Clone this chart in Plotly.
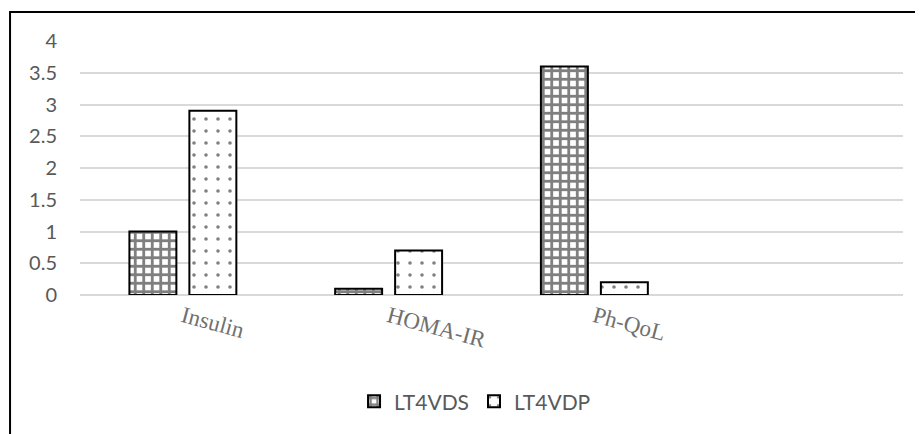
import plotly.graph_objects as go

categories = ["Insulin", "HOMA-IR", "Ph-QoL"]
lt4vds = [1.0, 0.1, 3.6]
lt4vdp = [2.9, 0.7, 0.2]
series_names = ["LT4VDS", "LT4VDP"]
y_ticks = [0, 0.5, 1, 1.5, 2, 2.5, 3, 3.5, 4]
y_tick_labels = ["0", "0.5", "1", "1.5", "2", "2.5", "3", "3.5", "4"]

fig = go.Figure()
fig.add_trace(go.Bar(
    x=categories, y=lt4vds, name=series_names[0],
    marker=dict(color="white", line=dict(color="black", width=2),
                pattern=dict(shape="+", fgcolor="black", bgcolor="white",
                             size=8.5, solidity=0.55, fillmode="overlay")),
))
fig.add_trace(go.Bar(
    x=categories, y=lt4vdp, name=series_names[1],
    marker=dict(color="white", line=dict(color="black", width=2),
                pattern=dict(shape=".", fgcolor="black", bgcolor="white",
                             size=12, solidity=0.07, fillmode="overlay")),
))

fig.update_layout(
    width=915, height=426,
    margin=dict(l=72, r=20, t=33, b=139),
    paper_bgcolor="white", plot_bgcolor="white",
    barmode="group", bargap=0.417, bargroupgap=0.217,
    font=dict(family="Lato", size=20, color="#595959"),
    showlegend=True,
    legend=dict(orientation="h", x=0.48, xanchor="center", y=-0.42, yanchor="middle",
                font=dict(family="Lato", size=21, color="#595959"),
                itemwidth=30, traceorder="normal"),
    shapes=[dict(type="rect", xref="paper", yref="paper",
                 x0=-0.085, x1=1.05, y0=-0.6, y1=1.114,
                 line=dict(color="black", width=2), fillcolor="rgba(0,0,0,0)",
                 layer="below")],
)
fig.update_xaxes(
    type="category", range=[-0.5, 3.5], showgrid=False, showline=False,
    ticks="", tickangle=15, ticklabelstandoff=3,
    tickfont=dict(family="Liberation Serif", size=23, color="#707070"),
)
fig.update_yaxes(
    range=[0, 4], tickvals=y_ticks, ticktext=y_tick_labels,
    showgrid=True, gridcolor="#d9d9d9", gridwidth=1.5,
    zeroline=True, zerolinecolor="#d9d9d9", zerolinewidth=1.5,
    showline=False, ticks="", ticklabelstandoff=22,
)

fig.write_html("out.html")
